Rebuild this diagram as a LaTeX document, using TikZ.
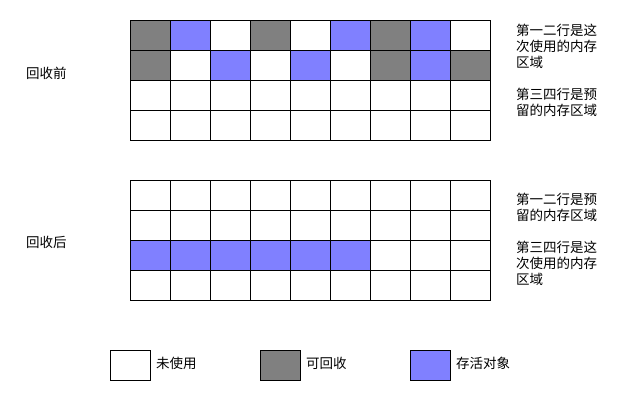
\documentclass[tikz,border=0pt]{standalone}
\usepackage{fontspec}
\setmainfont{Noto Sans CJK SC}
\definecolor{gc}{HTML}{808080}
\definecolor{bc}{HTML}{8080FF}
\tikzset{
  cell/.style={draw=black, line width=1pt, minimum width=40pt, minimum height=30pt, inner sep=0pt, anchor=north west},
  lbl/.style={font=\fontsize{13.5}{16}\selectfont, inner sep=0pt, anchor=west, align=left},
  note/.style={font=\fontsize{13.5}{16}\selectfont, inner sep=0pt, anchor=north west, align=left, text width=95pt}
}
\begin{document}
\begin{tikzpicture}[x=1pt,y=-1pt]
\useasboundingbox (0,0) rectangle (630,400);
% top grid
\foreach \r/\cols in {1/{gc,bc,white,gc,white,bc,gc,bc,white},2/{gc,white,bc,white,bc,white,gc,bc,gc},3/{white,white,white,white,white,white,white,white,white},4/{white,white,white,white,white,white,white,white,white}}{
  \foreach \c [count=\i] in \cols {
    \node[cell, fill=\c] (t\r-\i) at ({130+40*(\i-1)},{20+30*(\r-1)}) {};
  }
}
% bottom grid
\foreach \r/\cols in {1/{white,white,white,white,white,white,white,white,white},2/{white,white,white,white,white,white,white,white,white},3/{bc,bc,bc,bc,bc,bc,white,white,white},4/{white,white,white,white,white,white,white,white,white}}{
  \foreach \c [count=\i] in \cols {
    \node[cell, fill=\c] (b\r-\i) at ({130+40*(\i-1)},{180+30*(\r-1)}) {};
  }
}
\node[lbl] (before) at (26,73) {回收前};
\node[lbl] (after) at (26,242) {回收后};
\node[note] (n1) at (516,24) {第一二行是这\\次使用的内存\\区域};
\node[note] (n2) at (516,88) {第三四行是预\\留的内存区域};
\node[note] (n3) at (516,193) {第一二行是预\\留的内存区域};
\node[note] (n4) at (516,241) {第三四行是这\\次使用的内存\\区域};
% legend
\node[cell, fill=white] (l1) at (110,350) {};
\node[lbl] (lt1) at (156,363) {未使用};
\node[cell, fill=gc] (l2) at (260,350) {};
\node[lbl] (lt2) at (306,363) {可回收};
\node[cell, fill=bc] (l3) at (410,350) {};
\node[lbl] (lt3) at (456,363) {存活对象};
\end{tikzpicture}
\end{document}
